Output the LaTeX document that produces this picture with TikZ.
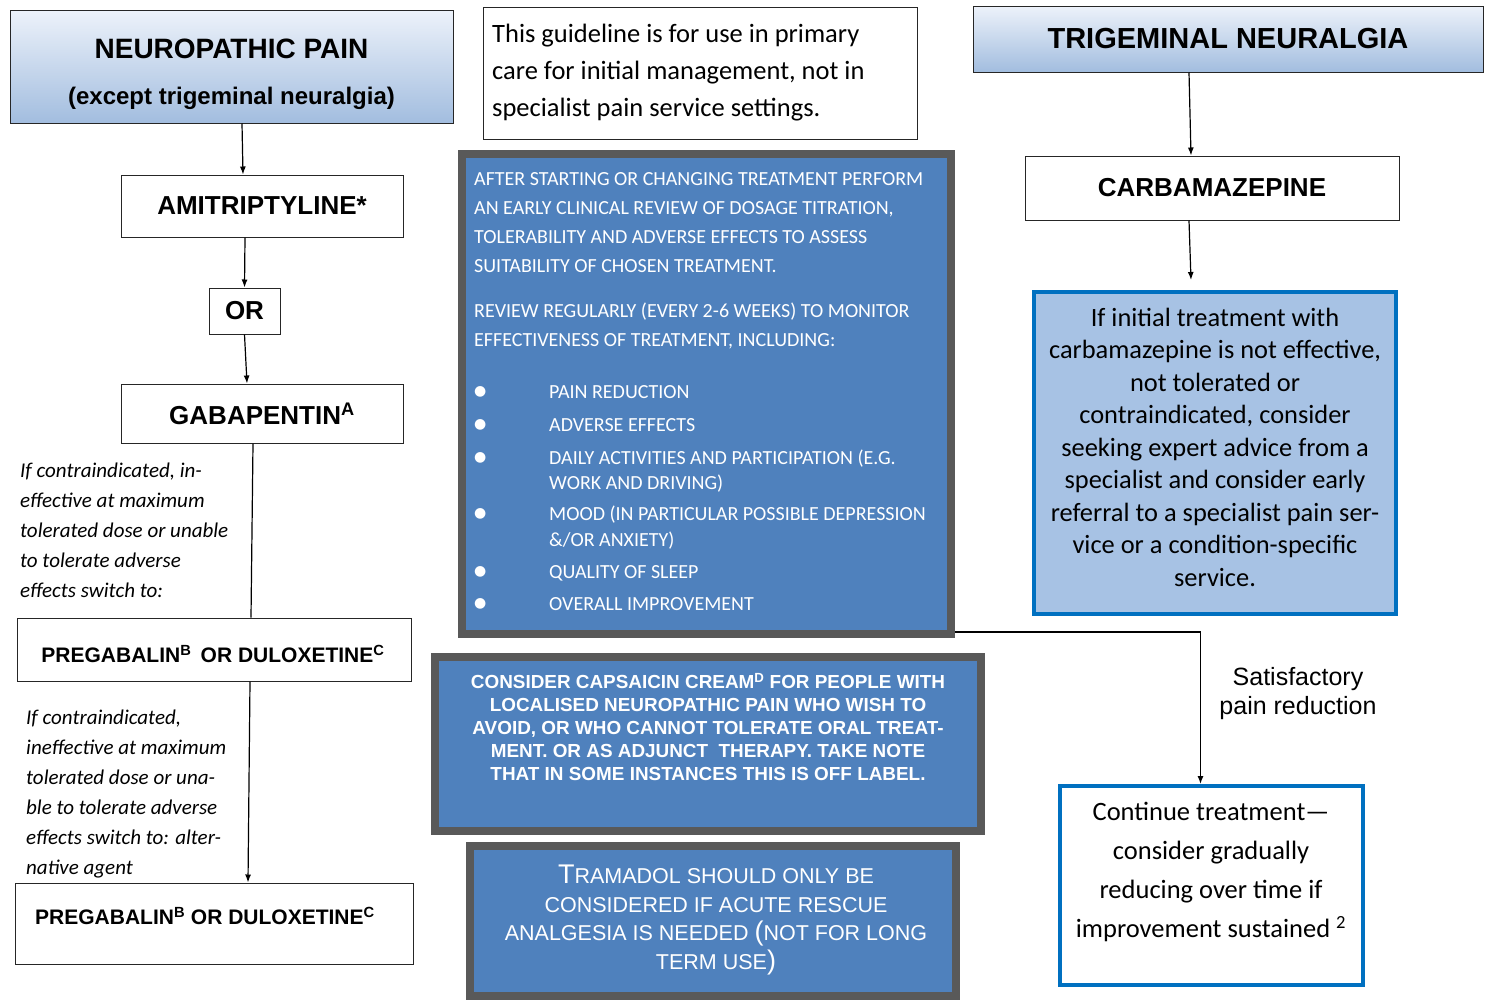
\documentclass[tikz,border=0pt]{standalone}
\usepackage{fontspec}
\setmainfont{Carlito}
\newfontfamily\arialfont{Liberation Sans}
\newfontfamily\symfont{DejaVu Sans}
\usetikzlibrary{arrows.meta}
\definecolor{panelblue}{HTML}{4F81BD}
\definecolor{panelgray}{HTML}{595959}
\definecolor{paleblue}{HTML}{A7C2E4}
\definecolor{edgeblue}{HTML}{0070C0}
\definecolor{shadetop}{HTML}{EDF2FA}
\definecolor{shadebot}{HTML}{A2BDDF}
\newcommand{\bul}{\makebox[75pt][l]{\raisebox{3.5pt}{\symfont\fontsize{14}{29}\selectfont ●}}}
\newcommand{\nobul}{\makebox[75pt][l]{}}
\newcommand{\capbig}[1]{{\fontsize{27}{28}\selectfont #1}}

\begin{document}
\begin{tikzpicture}[x=1pt,y=-1pt,
  >={Latex[length=8pt,width=6pt]},
  every node/.style={inner sep=0pt},
  box/.style={draw=black!85, line width=1pt},
  title/.style={box, top color=shadetop, bottom color=shadebot},
  drug/.style={box, fill=white, font={\arialfont\bfseries\fontsize{26}{31}\selectfont}},
  panel/.style={draw=panelgray, line width=8pt, fill=panelblue},
  bluebox/.style={draw=edgeblue, line width=4pt},
  link/.style={line width=1.2pt}]
\useasboundingbox (0,0) rectangle (1488,1002);

% left column: neuropathic pain
\node[title, minimum width=443pt, minimum height=113pt] (np) at (231.5,66.5) {};
\node[align=center, font={\arialfont\bfseries\fontsize{28}{46}\selectfont}] (nptext) at (231.5,74)
  {NEUROPATHIC PAIN\\{\fontsize{24}{46}\selectfont (except trigeminal neuralgia)}};
\node[drug, minimum width=282pt, minimum height=62pt] (ami) at (262,206) {AMITRIPTYLINE*};
\node[drug, minimum width=71pt, minimum height=46pt] (orbox) at (244.5,311) {OR};
\node[drug, minimum width=282pt, minimum height=59pt] (gaba) at (262,413.5) {GABAPENTIN\textsuperscript{A}};
\node[anchor=north west, align=left, font=\itshape\fontsize{21}{30}\selectfont] (note1) at (20,463)
  {If contraindicated, in-\\effective at maximum\\tolerated dose or unable\\to tolerate adverse\\effects switch to:};
\node[box, fill=white, minimum width=394pt, minimum height=63pt] (preg1) at (214,649.5) {};
\node[font={\arialfont\bfseries\fontsize{21}{25}\selectfont}] (preg1text) at (213,654)
  {PREGABALIN\textsuperscript{B}\, OR DULOXETINE\textsuperscript{C}};
\node[anchor=north west, align=left, font=\itshape\fontsize{21}{30}\selectfont] (note2) at (26,710)
  {If contraindicated,\\ineffective at maximum\\tolerated dose or una-\\ble to tolerate adverse\\effects switch to: alter-\\native agent};
\node[box, fill=white, minimum width=398pt, minimum height=81pt] (preg2) at (214,923.5) {};
\node[font={\arialfont\bfseries\fontsize{21}{25}\selectfont}] (preg2text) at (205,916)
  {PREGABALIN\textsuperscript{B} OR DULOXETINE\textsuperscript{C}};

% middle column
\node[box, fill=white, minimum width=434pt, minimum height=132pt] (guide) at (700,73) {};
\node[anchor=north west, align=left, font=\fontsize{26.5}{37}\selectfont] (guidetext) at (492,24)
  {This guideline is for use in primary\\care for initial management, not in\\specialist pain service settings.};
\node[panel, minimum width=489pt, minimum height=480pt] (review) at (706.5,394) {};
\node[anchor=north west, align=left, text=white, font=\fontsize{20}{29}\selectfont] (reviewtext) at (474,172.5)
  {AFTER STARTING OR CHANGING TREATMENT PERFORM\\
   AN EARLY CLINICAL REVIEW OF DOSAGE TITRATION,\\
   TOLERABILITY AND ADVERSE EFFECTS TO ASSESS\\
   SUITABILITY OF CHOSEN TREATMENT.\\[16pt]
   REVIEW REGULARLY (EVERY 2-6 WEEKS) TO MONITOR\\
   EFFECTIVENESS OF TREATMENT, INCLUDING:\\[23pt]
   \bul PAIN REDUCTION\\[4pt]
   \bul ADVERSE EFFECTS\\[4pt]
   \bul DAILY ACTIVITIES AND PARTICIPATION (E.G.\\[-4pt]
   \nobul WORK AND DRIVING)\\[2pt]
   \bul MOOD (IN PARTICULAR POSSIBLE DEPRESSION\\[-3pt]
   \nobul \&/OR ANXIETY)\\[3pt]
   \bul QUALITY OF SLEEP\\[3pt]
   \bul OVERALL IMPROVEMENT};
\node[panel, minimum width=546pt, minimum height=174pt] (caps) at (708,744) {};
\node[align=center, text=white, font={\arialfont\bfseries\fontsize{18.9}{23}\selectfont}] (capstext) at (708,727)
  {CONSIDER CAPSAICIN CREAM\textsuperscript{D} FOR PEOPLE WITH\\
   LOCALISED NEUROPATHIC PAIN WHO WISH TO\\
   AVOID, OR WHO CANNOT TOLERATE ORAL TREAT-\\
   MENT. OR AS ADJUNCT \ THERAPY. TAKE NOTE\\
   THAT IN SOME INSTANCES THIS IS OFF LABEL.};
\node[panel, minimum width=486pt, minimum height=150pt] (tram) at (713,921) {};
\node[align=center, text=white, font={\arialfont\fontsize{21.5}{28.5}\selectfont}] (tramtext) at (716,920)
  {\capbig{T}RAMADOL SHOULD ONLY BE\\
   CONSIDERED IF ACUTE RESCUE\\
   ANALGESIA IS NEEDED \capbig{(}NOT FOR LONG\\
   TERM USE\capbig{)}};

% right column: trigeminal neuralgia
\node[title, minimum width=510pt, minimum height=66pt, font={\arialfont\bfseries\fontsize{29}{34}\selectfont}] (tn) at (1228,39) {TRIGEMINAL NEURALGIA};
\node[drug, minimum width=374pt, minimum height=64pt] (carb) at (1212,188) {CARBAMAZEPINE};
\node[bluebox, fill=paleblue, minimum width=362pt, minimum height=322pt] (fail) at (1215,453) {};
\node[align=center, font=\fontsize{26.4}{32.5}\selectfont] (failtext) at (1215,447)
  {If initial treatment with\\carbamazepine is not effective,\\not tolerated or\\contraindicated, consider\\seeking expert advice from a\\specialist and consider early\\referral to a specialist pain ser-\\vice or a condition-specific\\service.};
\node[bluebox, fill=white, minimum width=303pt, minimum height=199pt] (cont) at (1211.5,885.5) {};
\node[align=center, font=\fontsize{26.5}{39}\selectfont] (conttext) at (1211,872)
  {Continue treatment---\\consider gradually\\reducing over time if\\improvement sustained \textsuperscript{2}};
\node[align=center, font={\arialfont\fontsize{25}{29}\selectfont}] (satlabel) at (1298,694) {Satisfactory\\pain reduction};

% connectors
\draw[link,->] ([xshift=10.5pt]np.south) -- ([xshift=-19pt]ami.north);
\draw[link,->] ([xshift=-17pt]ami.south) -- (orbox.north);
\draw[link,->] (orbox.south) -- ([xshift=-15pt]gaba.north);
\draw[link] ([xshift=-9pt]gaba.south) -- ([xshift=37pt]preg1.north);
\draw[link,->] ([xshift=36pt]preg1.south) -- ([xshift=34pt]preg2.north);
\draw[link,->] ([xshift=-39pt]tn.south) -- ([xshift=-21pt]carb.north);
\draw[link,->] ([xshift=-23pt]carb.south) -- ([xshift=-24pt,yshift=10pt]fail.north);
\draw[link,->] ([yshift=6pt]review.south east) -| ([xshift=-11pt]cont.north);
\end{tikzpicture}
\end{document}
